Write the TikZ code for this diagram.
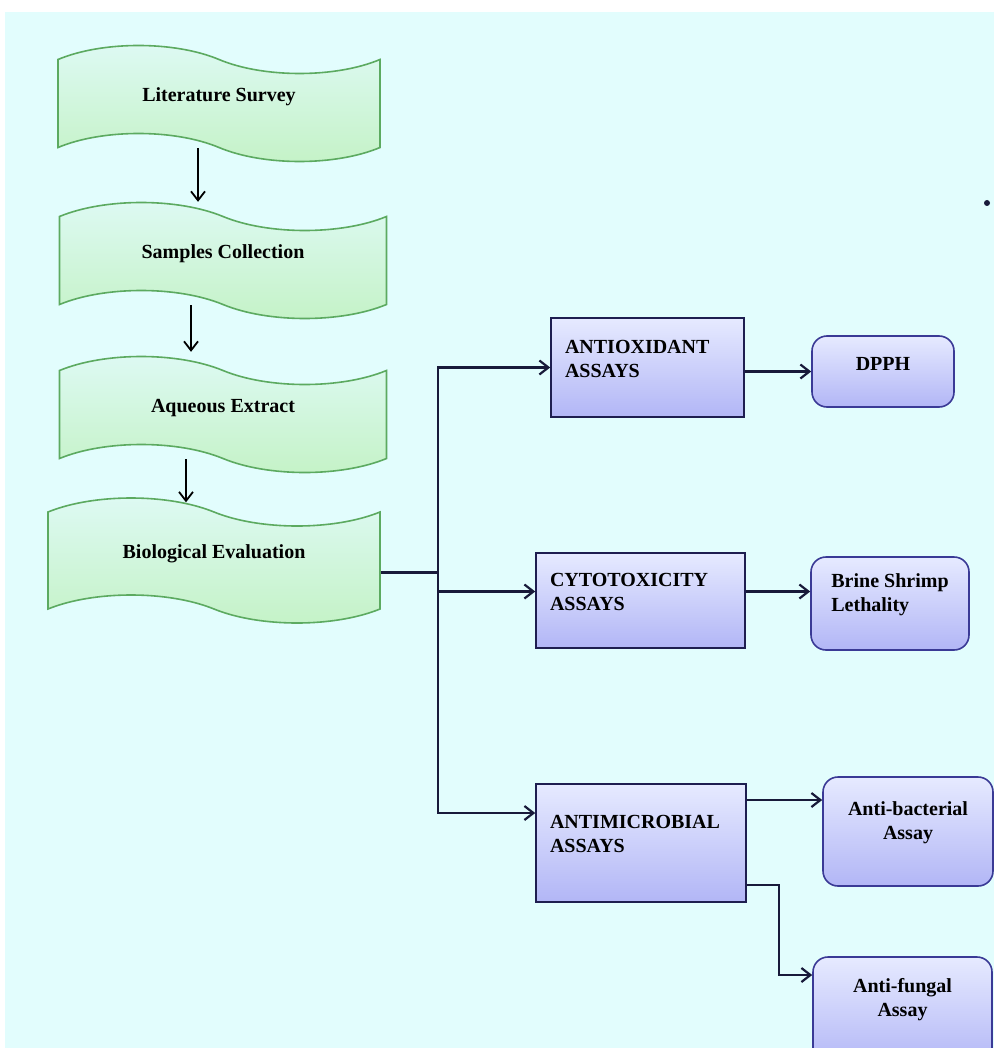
\documentclass[tikz,border=0pt]{standalone}
\usepackage{fontspec}
\setmainfont{Liberation Serif}
\usetikzlibrary{shapes.symbols,arrows.meta}

\definecolor{bgcyan}{RGB}{226,253,253}
\definecolor{wavetop}{RGB}{222,250,244}
\definecolor{wavebot}{RGB}{196,242,198}
\definecolor{wavegreen}{RGB}{92,170,96}
\definecolor{boxtop}{RGB}{230,234,255}
\definecolor{boxbot}{RGB}{178,182,246}
\definecolor{boxnavy}{RGB}{30,30,80}
\definecolor{boxblue}{RGB}{58,58,150}
\definecolor{linknavy}{RGB}{24,26,58}

\begin{document}
\begin{tikzpicture}[x=0.5pt,y=-0.5pt,>={Straight Barb[length=4.5pt,width=7pt]},
	wave/.style={tape, draw=wavegreen, thick, top color=wavetop, bottom color=wavebot, tape bend top=out and in, tape bend bottom=out and in, tape bend height=14pt, minimum height=58pt, font=\bfseries, text depth=9pt},
	assay/.style={rectangle, draw=boxnavy, thick, top color=boxtop, bottom color=boxbot, align=left, inner xsep=7pt, text depth=21pt, font=\bfseries},
	test/.style={rectangle, rounded corners=7.5pt, draw=boxblue, thick, top color=boxtop, bottom color=boxbot, align=center, text depth=11pt, font=\bfseries},
	flow/.style={black, line width=0.9pt, ->},
	link/.style={linknavy, line width=1.1pt}]
	\fill[white] (0,0) rectangle (994,1048);
	\fill[bgcyan] (5,12) rectangle (994,1048);
	\useasboundingbox (0,0) rectangle (994,1048);
	\fill[linknavy] (987,203) circle (1.5pt);

	% left column
	\node[wave, minimum width=161pt] at (219,103.5) (lit) {Literature Survey};
	\node[wave, minimum width=163.5pt] at (223,260.5) (samp) {Samples Collection};
	\node[wave, minimum width=163.5pt] at (223,414.5) (aq) {Aqueous Extract};
	\node[wave, minimum width=166pt, minimum height=62.5pt] at (214,560.5) (bio) {Biological Evaluation};

	\draw[flow] ([xshift=-10.5pt]lit.south) -- ([xshift=-10.5pt,yshift=7pt]lit.south |- samp.north);
	\draw[flow] ([xshift=-16pt]samp.south) -- ([xshift=-16pt,yshift=9pt]samp.south |- aq.north);
	\draw[flow] ([xshift=-18.5pt]aq.south) -- ([xshift=-18.5pt,yshift=4.5pt]aq.south |- bio.north);

	% assays
	\node[assay, text width=82.5pt, minimum height=49.5pt] at (647.5,367.5) (antiox) {ANTIOXIDANT\\ASSAYS};
	\node[assay, text width=90.5pt, minimum height=47.5pt] at (640.5,600.5) (cyto) {CYTOTOXICITY\\ASSAYS};
	\node[assay, text width=91pt, minimum height=59pt] at (641,843) (micro) {ANTIMICROBIAL\\ASSAYS};

	\node[test, minimum width=71pt, minimum height=35.5pt, text depth=8pt] at (883,371.5) (dpph) {DPPH};
	\node[test, align=left, minimum width=79pt, minimum height=46.5pt] at (890,603.5) (brine) {Brine Shrimp\\Lethality};
	\node[test, minimum width=85pt, minimum height=54.5pt] at (908,831.5) (bact) {Anti-bacterial\\Assay};
	\node[test, minimum width=89.5pt, minimum height=55pt, text depth=15pt] at (902.5,1012) (fungal) {Anti-fungal\\Assay};

	\coordinate (split) at (438,574);
	\draw[link] ([yshift=-6pt]bio.east) -- ([yshift=-6pt]bio.east -| split);
	\draw[link,->] (split) |- (antiox.west);
	\draw[link,->] (split) |- ([yshift=4.5pt]cyto.west);
	\draw[link,->] (split) |- ([yshift=15pt]micro.west);

	\draw[link,->] (antiox.east |- dpph.west) -- (dpph.west);
	\draw[link,->] ([yshift=4.5pt]cyto.east) -- ([yshift=4.5pt]cyto.east -| brine.west);
	\draw[link,->] ([yshift=21.5pt]micro.east) -- ([yshift=21.5pt]micro.east -| bact.west);
	\draw[link,->] ([yshift=-21pt]micro.east) -- ++(32,0) |- ([yshift=18.5pt]fungal.west);
\end{tikzpicture}
\end{document}
